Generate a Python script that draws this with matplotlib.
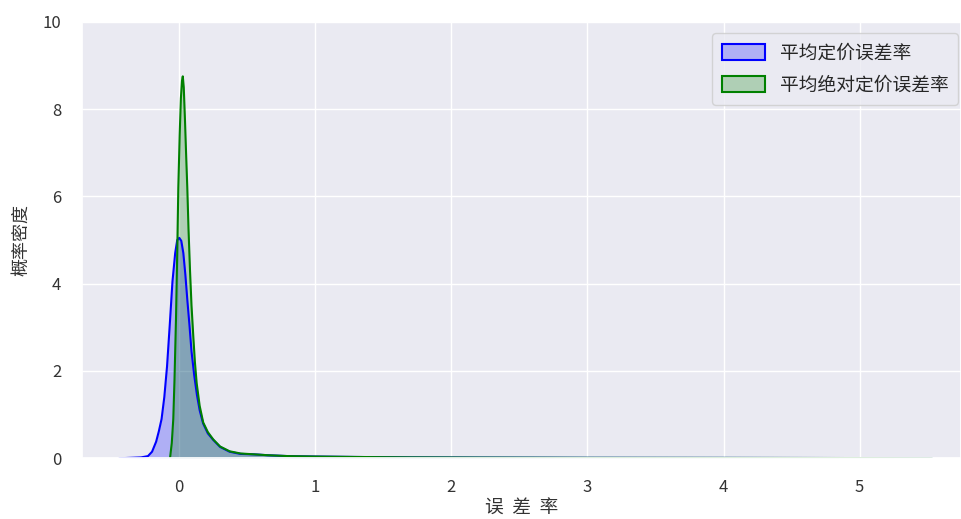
import matplotlib
matplotlib.use("Agg")
import matplotlib.pyplot as plt
import seaborn as sns
from matplotlib.patches import Patch
from matplotlib.colors import to_rgba

sns.set_theme(style="darkgrid")
plt.rcParams['font.family'] = ['Noto Sans CJK SC', 'DejaVu Sans']
plt.rcParams['axes.unicode_minus'] = False

# Density curve of mean pricing error rate
blue_x = [-0.44, -0.36, -0.28, -0.23, -0.20, -0.17, -0.15, -0.13, -0.11, -0.09,
          -0.07, -0.05, -0.03, -0.015, 0.0, 0.015, 0.03, 0.045, 0.06, 0.075,
          0.09, 0.11, 0.13, 0.15, 0.175, 0.21, 0.25, 0.30, 0.37, 0.45,
          0.55, 0.65, 0.80, 1.0, 1.3, 1.7, 2.2, 3.0, 4.0, 5.0, 5.53]
blue_y = [0.0, 0.01, 0.02, 0.05, 0.15, 0.38, 0.62, 0.90, 1.40, 2.10,
          3.05, 4.05, 4.70, 5.00, 5.05, 4.98, 4.70, 4.20, 3.60, 3.05,
          2.45, 1.90, 1.45, 1.10, 0.80, 0.57, 0.42, 0.26, 0.15, 0.10,
          0.09, 0.07, 0.05, 0.04, 0.03, 0.02, 0.015, 0.01, 0.008, 0.005, 0.0]

# Density curve of mean absolute pricing error rate
green_x = [-0.068, -0.055, -0.044, -0.035, -0.024, -0.015, -0.007, 0.003, 0.012, 0.02,
           0.026, 0.033, 0.042, 0.05, 0.059, 0.068, 0.079, 0.09, 0.103, 0.115,
           0.128, 0.15, 0.176, 0.21, 0.25, 0.30, 0.37, 0.45, 0.55, 0.65,
           0.80, 1.0, 1.3, 1.7, 2.2, 3.0, 4.0, 5.0, 5.53]
green_y = [0.0, 0.35, 0.90, 1.80, 3.20, 4.70, 6.20, 7.40, 8.25, 8.65,
           8.75, 8.50, 7.75, 7.00, 6.20, 5.25, 4.30, 3.50, 2.80, 2.20,
           1.72, 1.20, 0.82, 0.60, 0.43, 0.27, 0.16, 0.11, 0.09, 0.07,
           0.05, 0.04, 0.03, 0.02, 0.015, 0.01, 0.008, 0.005, 0.0]

labels = ['平均定价误差率', '平均绝对定价误差率']
colors = ['blue', 'green']
x_ticks = [0, 1, 2, 3, 4, 5]
y_ticks = [0, 2, 4, 6, 8, 10]

fig = plt.figure(figsize=(9.61, 5.19), dpi=100)
ax = fig.add_axes([0.0853, 0.117, 0.9147, 0.841])

for xs, ys, c in [(blue_x, blue_y, colors[0]), (green_x, green_y, colors[1])]:
    ax.fill_between(xs, 0, ys, color=c, alpha=0.25, linewidth=0)
    ax.plot(xs, ys, color=c, lw=1.5)

ax.set_xlim(-0.715, 5.745)
ax.set_ylim(0, 10)
ax.set_xticks(x_ticks)
ax.set_yticks(y_ticks)
ax.tick_params(axis='both', labelsize=12, pad=9, colors='#333333')
ax.set_xlabel('误  差  率', fontsize=13.5, color='#333333', labelpad=1)
ax.set_ylabel('概率密度', fontsize=13, color='#333333', labelpad=9)

handles = [Patch(facecolor=to_rgba(c, 0.25), edgecolor=c, linewidth=1.5) for c in colors]
ax.legend(handles, labels, loc='upper right', fontsize=13.5, labelspacing=0.6,
          handlelength=2.3, handleheight=0.9, borderpad=0.5,
          bbox_to_anchor=(958 / 961, (519 - 33) / 519), bbox_transform=fig.transFigure,
          borderaxespad=0)

fig.savefig('out.png', dpi=100)
